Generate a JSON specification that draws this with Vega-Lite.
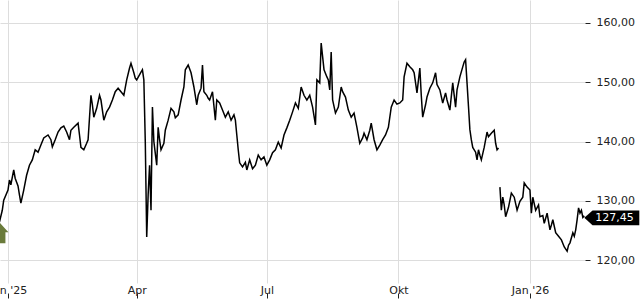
{
  "$schema": "https://vega.github.io/schema/vega-lite/v6.json",
  "width": 585,
  "height": 283,
  "autosize": "none",
  "padding": {"left": 0, "top": 0, "right": 55, "bottom": 17},
  "background": "white",
  "config": {
    "view": {"stroke": null},
    "font": "DejaVu Sans",
    "locale": {"number": {"decimal": ",", "thousands": ".", "grouping": [3], "currency": ["", " €"]}}
  },
  "datasets": {
    "prices": [
      {"date": "2024-12-26", "value": 126.4, "seg": 1},
      {"date": "2024-12-28", "value": 128.4, "seg": 1},
      {"date": "2024-12-29", "value": 130.1, "seg": 1},
      {"date": "2025-01-01", "value": 131.8, "seg": 1},
      {"date": "2025-01-02", "value": 133.5, "seg": 1},
      {"date": "2025-01-03", "value": 132.7, "seg": 1},
      {"date": "2025-01-05", "value": 135.2, "seg": 1},
      {"date": "2025-01-06", "value": 133.8, "seg": 1},
      {"date": "2025-01-08", "value": 132.5, "seg": 1},
      {"date": "2025-01-09", "value": 131.0, "seg": 1},
      {"date": "2025-01-10", "value": 129.6, "seg": 1},
      {"date": "2025-01-12", "value": 131.8, "seg": 1},
      {"date": "2025-01-14", "value": 134.3, "seg": 1},
      {"date": "2025-01-16", "value": 136.0, "seg": 1},
      {"date": "2025-01-18", "value": 136.9, "seg": 1},
      {"date": "2025-01-20", "value": 138.6, "seg": 1},
      {"date": "2025-01-22", "value": 138.2, "seg": 1},
      {"date": "2025-01-24", "value": 139.4, "seg": 1},
      {"date": "2025-01-26", "value": 140.6, "seg": 1},
      {"date": "2025-01-29", "value": 141.1, "seg": 1},
      {"date": "2025-01-31", "value": 140.3, "seg": 1},
      {"date": "2025-02-01", "value": 139.1, "seg": 1},
      {"date": "2025-02-03", "value": 140.3, "seg": 1},
      {"date": "2025-02-05", "value": 141.6, "seg": 1},
      {"date": "2025-02-07", "value": 142.3, "seg": 1},
      {"date": "2025-02-09", "value": 142.6, "seg": 1},
      {"date": "2025-02-11", "value": 141.6, "seg": 1},
      {"date": "2025-02-13", "value": 140.3, "seg": 1},
      {"date": "2025-02-14", "value": 141.9, "seg": 1},
      {"date": "2025-02-16", "value": 142.4, "seg": 1},
      {"date": "2025-02-19", "value": 143.1, "seg": 1},
      {"date": "2025-02-20", "value": 141.1, "seg": 1},
      {"date": "2025-02-21", "value": 139.0, "seg": 1},
      {"date": "2025-02-23", "value": 138.6, "seg": 1},
      {"date": "2025-02-25", "value": 139.7, "seg": 1},
      {"date": "2025-02-26", "value": 140.3, "seg": 1},
      {"date": "2025-02-28", "value": 147.8, "seg": 1},
      {"date": "2025-03-01", "value": 146.2, "seg": 1},
      {"date": "2025-03-02", "value": 144.1, "seg": 1},
      {"date": "2025-03-04", "value": 145.6, "seg": 1},
      {"date": "2025-03-06", "value": 147.8, "seg": 1},
      {"date": "2025-03-07", "value": 147.0, "seg": 1},
      {"date": "2025-03-09", "value": 143.6, "seg": 1},
      {"date": "2025-03-11", "value": 145.0, "seg": 1},
      {"date": "2025-03-13", "value": 145.8, "seg": 1},
      {"date": "2025-03-15", "value": 147.0, "seg": 1},
      {"date": "2025-03-17", "value": 148.4, "seg": 1},
      {"date": "2025-03-19", "value": 149.0, "seg": 1},
      {"date": "2025-03-21", "value": 148.4, "seg": 1},
      {"date": "2025-03-23", "value": 147.8, "seg": 1},
      {"date": "2025-03-25", "value": 150.4, "seg": 1},
      {"date": "2025-03-27", "value": 152.4, "seg": 1},
      {"date": "2025-03-28", "value": 153.2, "seg": 1},
      {"date": "2025-03-30", "value": 151.6, "seg": 1},
      {"date": "2025-03-31", "value": 150.7, "seg": 1},
      {"date": "2025-04-01", "value": 150.4, "seg": 1},
      {"date": "2025-04-04", "value": 151.7, "seg": 1},
      {"date": "2025-04-05", "value": 152.1, "seg": 1},
      {"date": "2025-04-06", "value": 150.4, "seg": 1},
      {"date": "2025-04-07", "value": 140.0, "seg": 1},
      {"date": "2025-04-08", "value": 123.9, "seg": 1},
      {"date": "2025-04-09", "value": 131.0, "seg": 1},
      {"date": "2025-04-10", "value": 136.0, "seg": 1},
      {"date": "2025-04-11", "value": 128.4, "seg": 1},
      {"date": "2025-04-12", "value": 145.8, "seg": 1},
      {"date": "2025-04-13", "value": 140.0, "seg": 1},
      {"date": "2025-04-14", "value": 138.0, "seg": 1},
      {"date": "2025-04-15", "value": 136.0, "seg": 1},
      {"date": "2025-04-16", "value": 142.4, "seg": 1},
      {"date": "2025-04-17", "value": 140.3, "seg": 1},
      {"date": "2025-04-18", "value": 138.6, "seg": 1},
      {"date": "2025-04-20", "value": 139.7, "seg": 1},
      {"date": "2025-04-21", "value": 141.9, "seg": 1},
      {"date": "2025-04-23", "value": 143.6, "seg": 1},
      {"date": "2025-04-25", "value": 145.6, "seg": 1},
      {"date": "2025-04-27", "value": 145.0, "seg": 1},
      {"date": "2025-04-28", "value": 144.0, "seg": 1},
      {"date": "2025-04-30", "value": 144.5, "seg": 1},
      {"date": "2025-05-02", "value": 147.0, "seg": 1},
      {"date": "2025-05-04", "value": 149.2, "seg": 1},
      {"date": "2025-05-05", "value": 152.1, "seg": 1},
      {"date": "2025-05-07", "value": 152.9, "seg": 1},
      {"date": "2025-05-09", "value": 151.6, "seg": 1},
      {"date": "2025-05-11", "value": 149.2, "seg": 1},
      {"date": "2025-05-13", "value": 146.2, "seg": 1},
      {"date": "2025-05-14", "value": 147.8, "seg": 1},
      {"date": "2025-05-16", "value": 149.0, "seg": 1},
      {"date": "2025-05-17", "value": 152.9, "seg": 1},
      {"date": "2025-05-18", "value": 148.4, "seg": 1},
      {"date": "2025-05-20", "value": 147.8, "seg": 1},
      {"date": "2025-05-21", "value": 147.3, "seg": 1},
      {"date": "2025-05-22", "value": 147.0, "seg": 1},
      {"date": "2025-05-24", "value": 148.4, "seg": 1},
      {"date": "2025-05-26", "value": 143.6, "seg": 1},
      {"date": "2025-05-27", "value": 147.0, "seg": 1},
      {"date": "2025-05-29", "value": 146.5, "seg": 1},
      {"date": "2025-05-31", "value": 145.3, "seg": 1},
      {"date": "2025-06-02", "value": 144.1, "seg": 1},
      {"date": "2025-06-04", "value": 145.0, "seg": 1},
      {"date": "2025-06-06", "value": 143.6, "seg": 1},
      {"date": "2025-06-08", "value": 144.5, "seg": 1},
      {"date": "2025-06-09", "value": 143.6, "seg": 1},
      {"date": "2025-06-10", "value": 141.1, "seg": 1},
      {"date": "2025-06-11", "value": 138.6, "seg": 1},
      {"date": "2025-06-12", "value": 136.4, "seg": 1},
      {"date": "2025-06-14", "value": 135.7, "seg": 1},
      {"date": "2025-06-16", "value": 136.5, "seg": 1},
      {"date": "2025-06-17", "value": 135.2, "seg": 1},
      {"date": "2025-06-19", "value": 136.9, "seg": 1},
      {"date": "2025-06-21", "value": 135.4, "seg": 1},
      {"date": "2025-06-23", "value": 136.0, "seg": 1},
      {"date": "2025-06-25", "value": 137.7, "seg": 1},
      {"date": "2025-06-27", "value": 136.9, "seg": 1},
      {"date": "2025-06-29", "value": 137.4, "seg": 1},
      {"date": "2025-07-01", "value": 136.0, "seg": 1},
      {"date": "2025-07-03", "value": 136.9, "seg": 1},
      {"date": "2025-07-05", "value": 138.1, "seg": 1},
      {"date": "2025-07-07", "value": 138.6, "seg": 1},
      {"date": "2025-07-09", "value": 139.9, "seg": 1},
      {"date": "2025-07-11", "value": 138.9, "seg": 1},
      {"date": "2025-07-13", "value": 141.1, "seg": 1},
      {"date": "2025-07-15", "value": 142.3, "seg": 1},
      {"date": "2025-07-17", "value": 143.6, "seg": 1},
      {"date": "2025-07-19", "value": 145.0, "seg": 1},
      {"date": "2025-07-21", "value": 146.5, "seg": 1},
      {"date": "2025-07-23", "value": 145.6, "seg": 1},
      {"date": "2025-07-25", "value": 149.2, "seg": 1},
      {"date": "2025-07-27", "value": 147.8, "seg": 1},
      {"date": "2025-07-29", "value": 147.0, "seg": 1},
      {"date": "2025-07-31", "value": 147.8, "seg": 1},
      {"date": "2025-08-02", "value": 145.8, "seg": 1},
      {"date": "2025-08-04", "value": 142.8, "seg": 1},
      {"date": "2025-08-05", "value": 150.4, "seg": 1},
      {"date": "2025-08-07", "value": 149.9, "seg": 1},
      {"date": "2025-08-08", "value": 156.6, "seg": 1},
      {"date": "2025-08-10", "value": 152.1, "seg": 1},
      {"date": "2025-08-12", "value": 150.9, "seg": 1},
      {"date": "2025-08-13", "value": 150.4, "seg": 1},
      {"date": "2025-08-14", "value": 148.7, "seg": 1},
      {"date": "2025-08-15", "value": 155.1, "seg": 1},
      {"date": "2025-08-16", "value": 147.0, "seg": 1},
      {"date": "2025-08-18", "value": 144.8, "seg": 1},
      {"date": "2025-08-20", "value": 145.8, "seg": 1},
      {"date": "2025-08-22", "value": 149.2, "seg": 1},
      {"date": "2025-08-23", "value": 148.4, "seg": 1},
      {"date": "2025-08-25", "value": 147.5, "seg": 1},
      {"date": "2025-08-27", "value": 145.3, "seg": 1},
      {"date": "2025-08-29", "value": 144.1, "seg": 1},
      {"date": "2025-08-31", "value": 144.8, "seg": 1},
      {"date": "2025-09-02", "value": 142.4, "seg": 1},
      {"date": "2025-09-04", "value": 139.7, "seg": 1},
      {"date": "2025-09-06", "value": 140.6, "seg": 1},
      {"date": "2025-09-07", "value": 141.4, "seg": 1},
      {"date": "2025-09-09", "value": 140.3, "seg": 1},
      {"date": "2025-09-11", "value": 141.9, "seg": 1},
      {"date": "2025-09-12", "value": 143.1, "seg": 1},
      {"date": "2025-09-14", "value": 140.3, "seg": 1},
      {"date": "2025-09-16", "value": 138.6, "seg": 1},
      {"date": "2025-09-18", "value": 139.4, "seg": 1},
      {"date": "2025-09-20", "value": 140.3, "seg": 1},
      {"date": "2025-09-22", "value": 141.1, "seg": 1},
      {"date": "2025-09-24", "value": 142.4, "seg": 1},
      {"date": "2025-09-26", "value": 145.8, "seg": 1},
      {"date": "2025-09-28", "value": 147.0, "seg": 1},
      {"date": "2025-09-30", "value": 146.3, "seg": 1},
      {"date": "2025-10-02", "value": 146.5, "seg": 1},
      {"date": "2025-10-04", "value": 147.0, "seg": 1},
      {"date": "2025-10-05", "value": 150.9, "seg": 1},
      {"date": "2025-10-07", "value": 153.2, "seg": 1},
      {"date": "2025-10-09", "value": 152.6, "seg": 1},
      {"date": "2025-10-11", "value": 152.1, "seg": 1},
      {"date": "2025-10-12", "value": 151.6, "seg": 1},
      {"date": "2025-10-14", "value": 148.2, "seg": 1},
      {"date": "2025-10-16", "value": 152.4, "seg": 1},
      {"date": "2025-10-17", "value": 147.8, "seg": 1},
      {"date": "2025-10-18", "value": 144.1, "seg": 1},
      {"date": "2025-10-20", "value": 146.2, "seg": 1},
      {"date": "2025-10-21", "value": 147.5, "seg": 1},
      {"date": "2025-10-23", "value": 149.0, "seg": 1},
      {"date": "2025-10-25", "value": 149.9, "seg": 1},
      {"date": "2025-10-27", "value": 151.6, "seg": 1},
      {"date": "2025-10-28", "value": 149.6, "seg": 1},
      {"date": "2025-10-30", "value": 148.7, "seg": 1},
      {"date": "2025-11-01", "value": 146.5, "seg": 1},
      {"date": "2025-11-03", "value": 148.2, "seg": 1},
      {"date": "2025-11-04", "value": 147.0, "seg": 1},
      {"date": "2025-11-06", "value": 145.3, "seg": 1},
      {"date": "2025-11-08", "value": 149.9, "seg": 1},
      {"date": "2025-11-10", "value": 145.8, "seg": 1},
      {"date": "2025-11-11", "value": 148.7, "seg": 1},
      {"date": "2025-11-13", "value": 150.9, "seg": 1},
      {"date": "2025-11-15", "value": 152.6, "seg": 1},
      {"date": "2025-11-16", "value": 153.4, "seg": 1},
      {"date": "2025-11-17", "value": 153.8, "seg": 1},
      {"date": "2025-11-18", "value": 149.9, "seg": 1},
      {"date": "2025-11-19", "value": 146.0, "seg": 1},
      {"date": "2025-11-20", "value": 142.0, "seg": 1},
      {"date": "2025-11-21", "value": 140.3, "seg": 1},
      {"date": "2025-11-22", "value": 139.0, "seg": 1},
      {"date": "2025-11-24", "value": 138.2, "seg": 1},
      {"date": "2025-11-25", "value": 136.9, "seg": 1},
      {"date": "2025-11-26", "value": 138.6, "seg": 1},
      {"date": "2025-11-27", "value": 137.7, "seg": 1},
      {"date": "2025-11-28", "value": 136.9, "seg": 1},
      {"date": "2025-11-30", "value": 139.0, "seg": 1},
      {"date": "2025-12-02", "value": 141.6, "seg": 1},
      {"date": "2025-12-03", "value": 140.8, "seg": 1},
      {"date": "2025-12-05", "value": 141.4, "seg": 1},
      {"date": "2025-12-07", "value": 141.9, "seg": 1},
      {"date": "2025-12-08", "value": 139.7, "seg": 1},
      {"date": "2025-12-09", "value": 138.6, "seg": 1},
      {"date": "2025-12-10", "value": 138.9, "seg": 1},
      {"date": "2025-12-11", "value": 132.3, "seg": 2},
      {"date": "2025-12-12", "value": 128.4, "seg": 2},
      {"date": "2025-12-13", "value": 130.6, "seg": 2},
      {"date": "2025-12-14", "value": 129.3, "seg": 2},
      {"date": "2025-12-15", "value": 127.3, "seg": 2},
      {"date": "2025-12-17", "value": 128.9, "seg": 2},
      {"date": "2025-12-19", "value": 131.3, "seg": 2},
      {"date": "2025-12-21", "value": 130.6, "seg": 2},
      {"date": "2025-12-23", "value": 128.4, "seg": 2},
      {"date": "2025-12-25", "value": 129.9, "seg": 2},
      {"date": "2025-12-27", "value": 130.6, "seg": 2},
      {"date": "2025-12-28", "value": 133.0, "seg": 2},
      {"date": "2025-12-30", "value": 132.3, "seg": 2},
      {"date": "2026-01-01", "value": 131.8, "seg": 2},
      {"date": "2026-01-02", "value": 127.9, "seg": 2},
      {"date": "2026-01-03", "value": 130.6, "seg": 2},
      {"date": "2026-01-05", "value": 128.4, "seg": 2},
      {"date": "2026-01-07", "value": 129.3, "seg": 2},
      {"date": "2026-01-08", "value": 127.3, "seg": 2},
      {"date": "2026-01-10", "value": 127.5, "seg": 2},
      {"date": "2026-01-11", "value": 126.2, "seg": 2},
      {"date": "2026-01-13", "value": 127.9, "seg": 2},
      {"date": "2026-01-15", "value": 125.1, "seg": 2},
      {"date": "2026-01-16", "value": 125.9, "seg": 2},
      {"date": "2026-01-17", "value": 126.8, "seg": 2},
      {"date": "2026-01-19", "value": 124.6, "seg": 2},
      {"date": "2026-01-21", "value": 124.0, "seg": 2},
      {"date": "2026-01-23", "value": 123.4, "seg": 2},
      {"date": "2026-01-25", "value": 122.2, "seg": 2},
      {"date": "2026-01-27", "value": 121.5, "seg": 2},
      {"date": "2026-01-28", "value": 122.5, "seg": 2},
      {"date": "2026-01-29", "value": 122.9, "seg": 2},
      {"date": "2026-01-31", "value": 124.6, "seg": 2},
      {"date": "2026-02-01", "value": 124.0, "seg": 2},
      {"date": "2026-02-02", "value": 125.1, "seg": 2},
      {"date": "2026-02-03", "value": 126.8, "seg": 2},
      {"date": "2026-02-04", "value": 128.8, "seg": 2},
      {"date": "2026-02-05", "value": 127.9, "seg": 2},
      {"date": "2026-02-06", "value": 128.4, "seg": 2},
      {"date": "2026-02-07", "value": 127.2, "seg": 2},
      {"date": "2026-02-08", "value": 127.45, "seg": 2}
    ],
    "signal": [{"date": "2024-12-26", "value": 124.6}],
    "last": [{"date": "2026-02-08", "value": 127.45}]
  },
  "encoding": {
    "x": {
      "field": "date",
      "type": "temporal",
      "title": null,
      "scale": {"domain": [1735205760000, 1770552000000]},
      "axis": {
        "orient": "bottom",
        "values": [1735689600000, 1743465600000, 1751328000000, 1759276800000, 1767225600000],
        "labelExpr": "['Jan','Feb','Mär','Apr','Mai','Jun','Jul','Aug','Sep','Okt','Nov','Dez'][utcmonth(datum.value)] + (utcmonth(datum.value) == 0 ? \" '\" + utcFormat(datum.value, '%y') : '')",
        "grid": true,
        "gridColor": "#dddddd",
        "gridWidth": 1,
        "domain": false,
        "tickSize": 15,
        "tickColor": "#222222",
        "tickDash": [0, 10, 5, 100],
        "labelPadding": -14,
        "labelFontSize": 11,
        "labelColor": "#222222",
        "labelFont": "DejaVu Sans",
        "labelOverlap": false,
        "labelFlush": false
      }
    },
    "y": {
      "field": "value",
      "type": "quantitative",
      "title": null,
      "scale": {"domain": [116.12, 163.88], "nice": false, "zero": false},
      "axis": {
        "orient": "right",
        "values": [120, 130, 140, 150, 160],
        "labelExpr": "replace(format(datum.value, '.2f'), '.', ',')",
        "grid": true,
        "gridColor": "#dddddd",
        "gridWidth": 1,
        "domain": false,
        "tickSize": 5,
        "tickColor": "#222222",
        "labelPadding": 6,
        "labelFontSize": 11,
        "labelColor": "#222222",
        "labelFont": "DejaVu Sans",
        "labelBaseline": "middle"
      }
    }
  },
  "layer": [
    {
      "data": {"name": "prices"},
      "mark": {"type": "line", "color": "#000000", "strokeWidth": 1.5, "interpolate": "linear", "strokeJoin": "miter"},
      "encoding": {"detail": {"field": "seg", "type": "nominal"}}
    },
    {
      "data": {"name": "signal"},
      "mark": {
        "type": "point",
        "shape": "M0,-1.05 L0.9,-0.05 L0.6,-0.05 L0.6,1.05 L-0.6,1.05 L-0.6,-0.05 L-0.9,-0.05 Z",
        "size": 400,
        "filled": true,
        "color": "#6a7b3b",
        "opacity": 1,
        "strokeWidth": 0
      }
    },
    {
      "data": {"name": "last"},
      "mark": {
        "type": "point",
        "shape": "M0,0 L0.3,-0.27 L2,-0.27 L2,0.27 L0.3,0.27 Z",
        "size": 3025,
        "filled": true,
        "color": "#000000",
        "opacity": 1,
        "strokeWidth": 0,
        "yOffset": 2
      }
    },
    {
      "data": {"name": "last"},
      "mark": {
        "type": "text",
        "align": "left",
        "baseline": "middle",
        "dx": 11,
        "yOffset": 2,
        "color": "#ffffff",
        "fontSize": 11,
        "font": "DejaVu Sans"
      },
      "encoding": {"text": {"field": "value", "type": "quantitative", "format": ".2f"}}
    }
  ]
}
